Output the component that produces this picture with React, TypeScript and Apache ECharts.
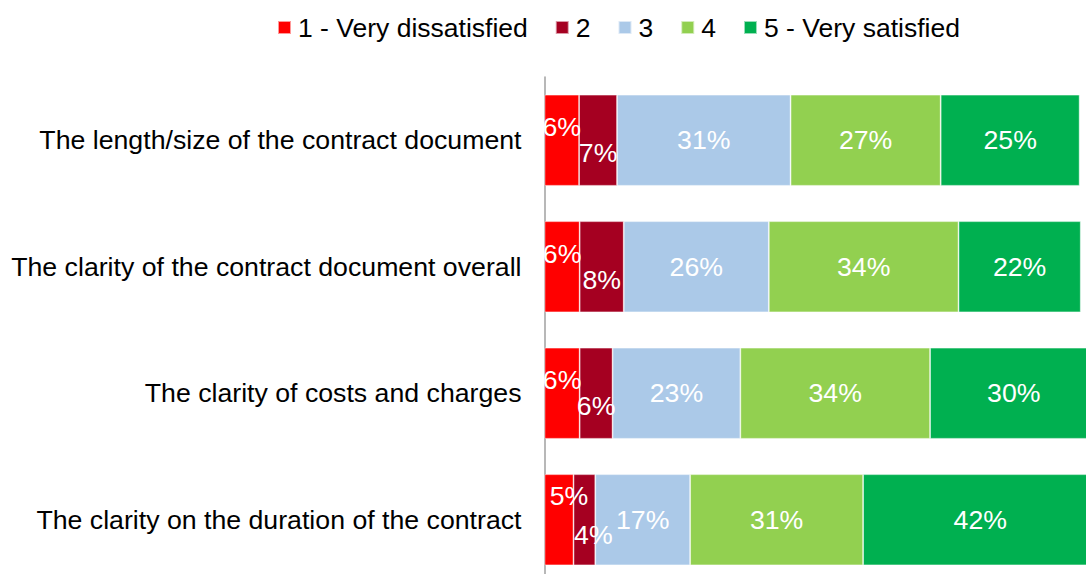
import React, { useEffect, useRef } from "react";
import * as echarts from "echarts";

const categories = [
  "The length/size of the contract document",
  "The clarity of the contract document overall",
  "The clarity of costs and charges",
  "The clarity on the duration of the contract",
];

const seriesNames = ["1 - Very dissatisfied", "2", "3", "4", "5 - Very satisfied"];

const verySatisfied1 = [6.2, 6.3, 6.3, 5.2];
const dissatisfied2 = [6.8, 7.9, 5.9, 3.9];
const neutral3 = [31.1, 26.0, 22.9, 17.0];
const satisfied4 = [26.9, 34.0, 34.0, 31.0];
const verySatisfied5 = [24.9, 21.9, 30.0, 42.0];

const seriesValues = [verySatisfied1, dissatisfied2, neutral3, satisfied4, verySatisfied5];
const colors = ["#FF0000", "#A50021", "#ABC9E8", "#92D050", "#00B050"];

// label shifts per series/row (style only)
const labelShift: number[][][] = [
  [[0, -13], [0, -13], [0, -13], [10, -24]],
  [[0, 13], [0, 13], [0, 13], [9, 15]],
  [[0, 0], [0, 0], [0, 0], [0, 0]],
  [[0, 0], [0, 0], [0, 0], [0, 0]],
  [[0, 0], [0, 0], [0, 0], [0, 0]],
];

const FONT = "'Liberation Sans', Arial, sans-serif";
const FS = 26.7;

export default function App() {
  const ref = useRef<HTMLDivElement>(null);
  useEffect(() => {
    if (!ref.current) return;
    const chart = echarts.init(ref.current, null, { renderer: "svg" });
    chart.setOption({
      animation: false,
      legend: {
        left: 277,
        top: 14,
        padding: 0,
        itemWidth: 13,
        itemHeight: 13,
        itemGap: 27,
        icon: "rect",
        textStyle: { fontFamily: FONT, fontSize: 26.5, color: "#000", padding: [0, 0, 0, 2], lineHeight: 27 },
        data: seriesNames,
      },
      grid: { left: 544.5, top: 77, width: 558, height: 506, containLabel: false, outerBoundsMode: "none" },
      xAxis: {
        type: "value",
        min: 0,
        max: 100,
        show: false,
      },
      yAxis: {
        type: "category",
        inverse: true,
        data: categories,
        axisLine: { show: true, lineStyle: { color: "#A0A0A0", width: 1.5 } },
        axisTick: { show: false },
        axisLabel: { margin: 23, fontFamily: FONT, fontSize: FS, color: "#000" },
      },
      series: seriesValues.map((vals, si) => ({
        name: seriesNames[si],
        type: "bar",
        stack: "total",
        barCategoryGap: "28%",
        itemStyle: { color: colors[si], borderColor: "rgba(255,255,255,0.6)", borderWidth: 0.8 },
        label: {
          show: true,
          position: "inside",
          color: "#fff",
          fontFamily: FONT,
          fontSize: FS,
          formatter: (p: any) => Math.round(p.value) + "%",
        },
        data: vals.map((v, ri) => ({
          value: v,
          label: { offset: labelShift[si][ri] },
        })),
      })),
    });
    return () => chart.dispose();
  }, []);
  return (
    <div
      ref={ref}
      style={{ position: "absolute", left: 0, top: 0, width: 1086, height: 574, overflow: "hidden", background: "#fff" }}
    />
  );
}
